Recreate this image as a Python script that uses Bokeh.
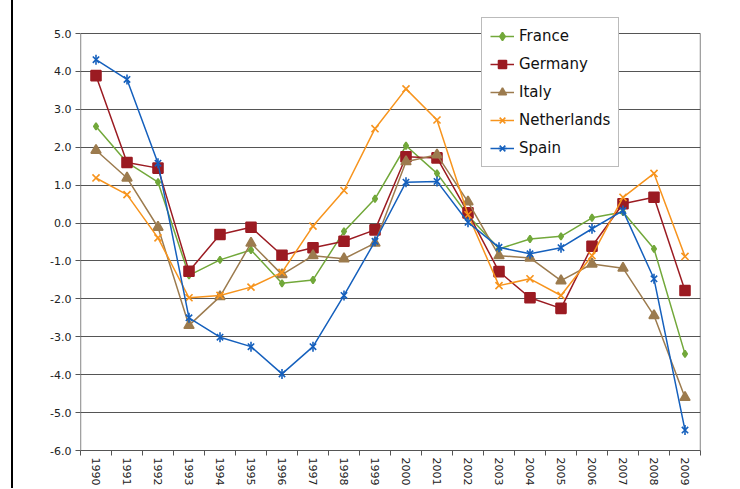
import math
from bokeh.plotting import figure
from bokeh.models import FixedTicker, Range1d, Legend, LegendItem, PrintfTickFormatter
from bokeh.embed import file_html
from bokeh.resources import INLINE

years = list(range(1990, 2010))
year_labels = [str(y) for y in years]

france = [2.55, 1.60, 1.08, -1.38, -0.97, -0.71, -1.59, -1.50, -0.22, 0.64,
          2.04, 1.31, 0.20, -0.68, -0.42, -0.35, 0.14, 0.29, -0.68, -3.45]
germany = [3.89, 1.60, 1.45, -1.27, -0.30, -0.11, -0.85, -0.65, -0.48, -0.18,
           1.75, 1.72, 0.27, -1.28, -1.97, -2.25, -0.61, 0.51, 0.68, -1.78]
italy = [1.92, 1.19, -0.11, -2.70, -1.94, -0.53, -1.36, -0.86, -0.94, -0.53,
         1.62, 1.80, 0.56, -0.86, -0.92, -1.52, -1.08, -1.19, -2.44, -4.60]
netherlands = [1.19, 0.75, -0.39, -1.97, -1.91, -1.69, -1.30, -0.08, 0.86, 2.49,
               3.54, 2.72, 0.22, -1.65, -1.47, -1.91, -0.86, 0.68, 1.31, -0.88]
spain = [4.31, 3.79, 1.58, -2.50, -3.01, -3.26, -3.98, -3.26, -1.91, -0.48,
         1.08, 1.10, 0.02, -0.64, -0.81, -0.65, -0.15, 0.33, -1.47, -5.46]

series_names = ["France", "Germany", "Italy", "Netherlands", "Spain"]
series_values = [france, germany, italy, netherlands, spain]
colors = ["#72A83A", "#9B1B22", "#9C7B4E", "#F7941D", "#1560BD"]
markers = ["diamond", "square", "triangle", "x", "x"]
msizes = [7, 10, 10, 10, 9]

y_min, y_max = -6.0, 5.0
y_ticks = [float(v) for v in range(-6, 6)]

p = figure(width=719, height=488, output_backend="svg", toolbar_location=None,
           x_range=Range1d(1989.5, 2009.5), y_range=Range1d(y_min, y_max + 0.45),
           min_border_left=67, min_border_right=32, min_border_top=16,
           min_border_bottom=31)
p.styles = {"border-left": "2px solid #000", "margin-left": "11px"}

p.background_fill_color = "white"
p.border_fill_color = "white"
p.outline_line_color = None

p.xgrid.visible = False
p.ygrid.ticker = FixedTicker(ticks=y_ticks)
p.ygrid.grid_line_color = "#555555"
p.ygrid.grid_line_width = 1

# plot-area side borders (left axis line and right frame line)
p.segment(x0=[1989.5, 2009.5], y0=[y_min, y_min], x1=[1989.5, 2009.5], y1=[y_max, y_max],
          line_color="#444444", line_width=1.3)

xa = p.xaxis[0]
xa.ticker = FixedTicker(ticks=years, minor_ticks=[y - 0.5 for y in years] + [2009.5])
xa.major_label_overrides = {y: s for y, s in zip(years, year_labels)}
xa.major_tick_out = 0
xa.major_tick_in = 0
xa.minor_tick_out = 5
xa.minor_tick_in = 0
xa.minor_tick_line_color = "#555555"
xa.axis_line_color = "#555555"
xa.major_label_orientation = -math.pi / 2
xa.major_label_standoff = 2
xa.major_label_text_font = "DejaVu Sans"
xa.major_label_text_font_size = "11px"
xa.major_label_text_color = "#222222"

ya = p.yaxis[0]
ya.ticker = FixedTicker(ticks=y_ticks)
ya.formatter = PrintfTickFormatter(format="%.1f")
ya.major_tick_out = 5
ya.major_tick_in = 0
ya.minor_tick_out = 0
ya.minor_tick_in = 0
ya.major_tick_line_color = "#555555"
ya.axis_line_color = None
ya.major_label_standoff = 4
ya.major_label_text_font = "DejaVu Sans"
ya.major_label_text_font_size = "11px"
ya.major_label_text_color = "#222222"

items = []
for name, vals, c, m, s in zip(series_names, series_values, colors, markers, msizes):
    ln = p.line(years, vals, line_color=c, line_width=1.5)
    sc = p.scatter(years, vals, marker=m, size=s, fill_color=c, line_color=c, line_width=1.6)
    rends = [ln, sc]
    if name == "Spain":
        # Excel-style star marker: an x with a vertical bar through it
        bar = p.scatter(years, vals, marker="dash", angle=math.pi / 2, size=s + 1,
                        line_color=c, line_width=1.6)
        rends.append(bar)
    items.append(LegendItem(label=name, renderers=rends))

legend = Legend(items=items, location=(401, 283))
legend.margin = 0
legend.padding = 8
legend.spacing = 8
legend.glyph_height = 20
legend.glyph_width = 24
legend.label_standoff = 5
legend.label_height = 20
legend.label_text_font = "DejaVu Sans"
legend.label_text_font_size = "15px"
legend.label_text_color = "#111111"
legend.border_line_color = "#777777"
legend.border_line_width = 1
legend.background_fill_color = "white"
legend.background_fill_alpha = 1.0
p.add_layout(legend, "center")

open("out.html", "w").write(file_html(p, INLINE))
